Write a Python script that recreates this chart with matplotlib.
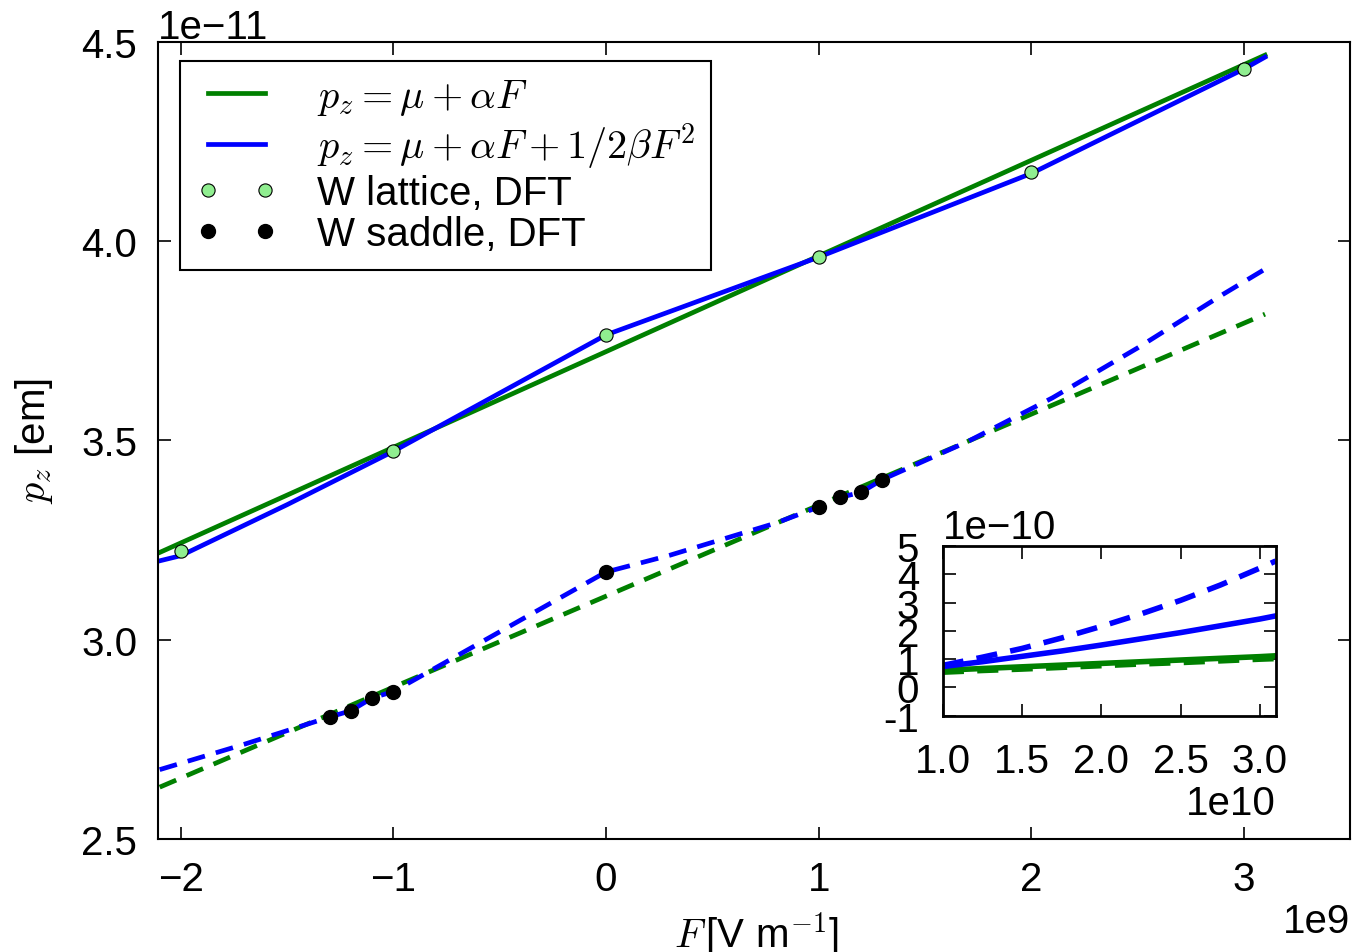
import matplotlib
matplotlib.use("Agg")
import matplotlib.pyplot as plt
import numpy as np

plt.rcParams['font.family'] = ['Liberation Sans', 'DejaVu Sans']
plt.rcParams['mathtext.fontset'] = 'cm'

# ---------------- data (F in 1e9 V/m, p in 1e-11 e m) ----------------
F_lattice = [-2, -1, 0, 1, 2, 3]
p_lattice = [3.223, 3.474, 3.765, 3.960, 4.174, 4.432]

F_saddle = [-1.3, -1.2, -1.1, -1.0, 0.0, 1.0, 1.1, 1.2, 1.3]
p_saddle = [2.806, 2.822, 2.854, 2.870, 3.170, 3.333, 3.357, 3.370, 3.402]

F_lin_lat = [-2.1, 3.1]
p_lin_lat = [3.219, 4.467]

F_quad_lat = [-2.1, -2.0, -1.5, -1.0, 0.0, 1.0, 2.0, 3.0, 3.1]
p_quad_lat = [3.198, 3.211, 3.339, 3.473, 3.765, 3.960, 4.170, 4.432, 4.462]

F_lin_sad = [-2.1, 3.1]
p_lin_sad = [2.630, 3.817]

F_quad_sad = [-2.1, -1.7, -1.3, -1.2, -1.1, -1.0, 0.0, 0.3, 0.8, 1.0, 1.1, 1.2, 1.3,
              1.7, 2.1, 2.5, 2.9, 3.1]
p_quad_sad = [2.674, 2.738, 2.806, 2.822, 2.854, 2.870, 3.170, 3.212, 3.293, 3.333,
              3.357, 3.370, 3.402, 3.497, 3.607, 3.732, 3.866, 3.930]

# inset (F in 1e10 V/m, p in 1e-10 e m)
F_inset = [1.0, 1.25, 1.5, 1.75, 2.0, 2.25, 2.5, 2.75, 3.0, 3.1]
p_in_lin_lat = [0.61, 0.67, 0.73, 0.79, 0.85, 0.91, 0.97, 1.03, 1.09, 1.12]
p_in_quad_lat = [0.74, 0.91, 1.10, 1.29, 1.50, 1.72, 1.94, 2.18, 2.42, 2.53]
p_in_lin_sad = [0.54, 0.60, 0.65, 0.71, 0.77, 0.83, 0.88, 0.94, 1.00, 1.02]
p_in_quad_sad = [0.78, 1.07, 1.38, 1.75, 2.16, 2.60, 3.08, 3.62, 4.22, 4.47]

x_ticks = [-2, -1, 0, 1, 2, 3]
y_ticks = [2.5, 3.0, 3.5, 4.0, 4.5]
inset_xticks = [1.0, 1.5, 2.0, 2.5, 3.0]
inset_yticks = [-1, 0, 1, 2, 3, 4, 5]
inset_yticklabels = ['-1', '0', '1', '2', '3', '4', '5']

GREEN = '#008000'
BLUE = '#0000ff'
DASH = (0, (3.8, 2.4))
FS = 29

fig = plt.figure(figsize=(13.63, 9.53), dpi=100)
ax = fig.add_axes([0.1159, 0.1186, 0.8746, 0.8363])

e9, e11 = 1e9, 1e-11
ax.plot(np.array(F_lin_lat) * e9, np.array(p_lin_lat) * e11, color=GREEN, lw=3.4,
        label=r'$p_z = \mu + \alpha F$')
ax.plot(np.array(F_quad_lat) * e9, np.array(p_quad_lat) * e11, color=BLUE, lw=3.4,
        label=r'$p_z = \mu + \alpha F + 1/2\beta F^2$')
ax.plot(np.array(F_lin_sad) * e9, np.array(p_lin_sad) * e11, color=GREEN, lw=3.4, ls=DASH)
ax.plot(np.array(F_quad_sad) * e9, np.array(p_quad_sad) * e11, color=BLUE, lw=3.4, ls=DASH)
ax.plot(np.array(F_lattice) * e9, np.array(p_lattice) * e11, 'o', ls='none',
        mfc='#90ee90', mec='black', mew=0.8, ms=9.5, label='W lattice, DFT', zorder=5)
ax.plot(np.array(F_saddle) * e9, np.array(p_saddle) * e11, 'o', ls='none',
        mfc='black', mec='black', ms=10, label='W saddle, DFT', zorder=5)

ax.set_xlim(-2.108e9, 3.5e9)
ax.set_ylim(2.5e-11, 4.5e-11)
ax.set_xticks(np.array(x_ticks) * e9)
ax.set_yticks(np.array(y_ticks) * e11)
ax.tick_params(direction='in', top=True, right=True, length=9, width=1.2,
               labelsize=FS, pad=15)
ax.xaxis.get_offset_text().set_fontsize(FS)
ax.yaxis.get_offset_text().set_fontsize(FS)
for s in ax.spines.values():
    s.set_linewidth(1.5)

ax.set_xlabel(r'$F\,$[V m$^{-1}$]', fontsize=FS)
ax.set_ylabel(r'$p_z$ [em]', fontsize=FS)
ax.xaxis.set_label_coords(0.502, -0.088)
ax.yaxis.set_label_coords(-0.086, 0.50)

leg = ax.legend(loc='upper left', bbox_to_anchor=(0.0185, 0.976), borderaxespad=0,
                fontsize=FS, numpoints=2, handlelength=2.0, labelspacing=0.08,
                fancybox=False, edgecolor='black', framealpha=1, borderpad=0.4,
                handletextpad=1.0)
leg.get_frame().set_linewidth(1.5)

# ---------------- inset ----------------
ins = fig.add_axes([0.6917, 0.2479, 0.2443, 0.1781])
e10, e10m = 1e10, 1e-10
ins.plot(np.array(F_inset) * e10, np.array(p_in_lin_lat) * e10m, color=GREEN, lw=4)
ins.plot(np.array(F_inset) * e10, np.array(p_in_quad_lat) * e10m, color=BLUE, lw=4)
ins.plot(np.array(F_inset) * e10, np.array(p_in_lin_sad) * e10m, color=GREEN, lw=4, ls=DASH)
ins.plot(np.array(F_inset) * e10, np.array(p_in_quad_sad) * e10m, color=BLUE, lw=4, ls=DASH)
ins.set_xlim(1.0e10, 3.1e10)
ins.set_ylim(-1e-10, 5e-10)
ins.set_xticks(np.array(inset_xticks) * e10)
ins.set_yticks(np.array(inset_yticks) * e10m)
ins.set_yticklabels(inset_yticklabels)
ins.tick_params(direction='in', top=True, right=True, length=9, width=1.2,
                labelsize=FS, pad=19)
ins.tick_params(axis='y', pad=17)
ins.xaxis.get_offset_text().set_fontsize(FS)
ins.text(0.0, 1.0, '1e\u221210', transform=ins.transAxes, fontsize=FS,
         ha='left', va='bottom')
for s in ins.spines.values():
    s.set_linewidth(2)

fig.savefig('out.png', dpi=100)
